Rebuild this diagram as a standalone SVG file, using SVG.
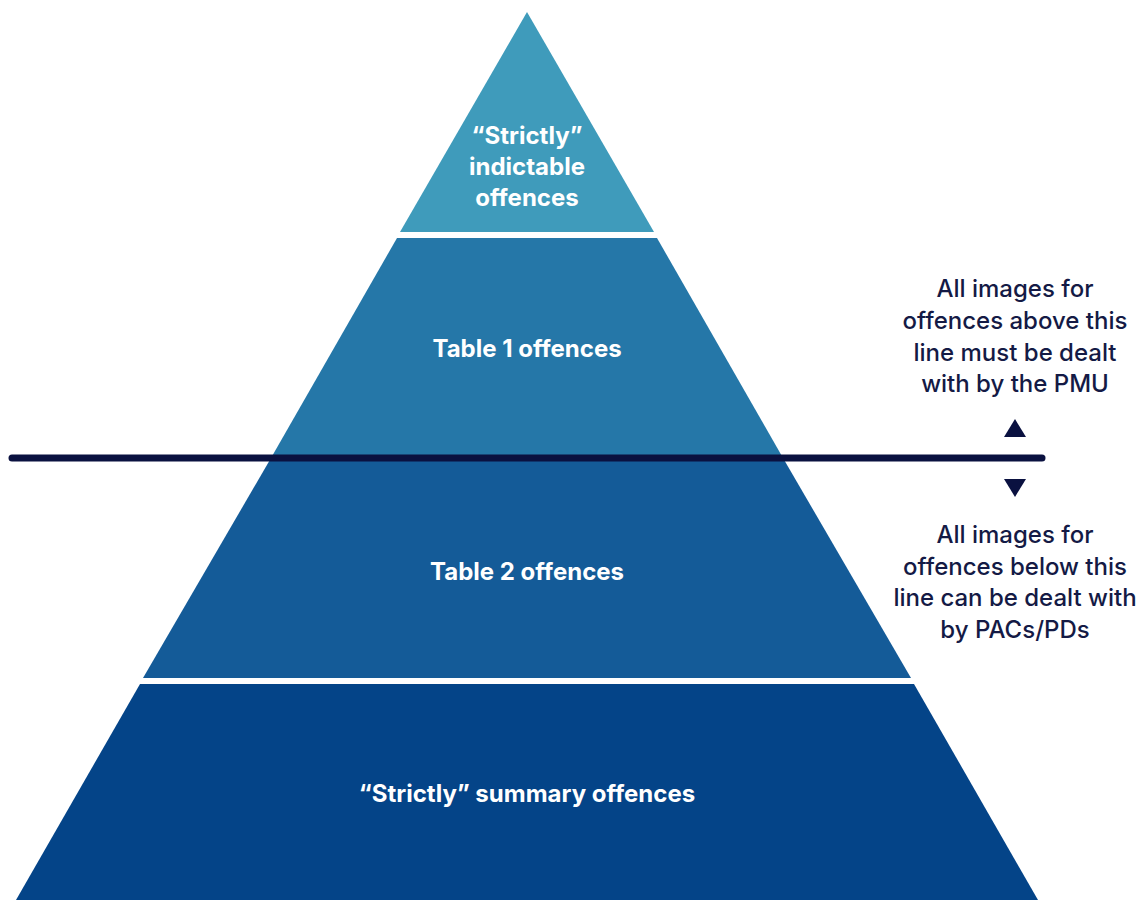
<svg xmlns="http://www.w3.org/2000/svg" width="1145" height="900" viewBox="0 0 1145 900">
<style>
.lbl{font-family:Inter,"Liberation Sans",sans-serif;font-weight:700;font-size:24px;fill:#ffffff;text-anchor:middle}
.note{font-family:Inter,"Liberation Sans",sans-serif;font-weight:500;font-size:24px;fill:#141a45;text-anchor:middle}
</style>
<rect width="1145" height="900" fill="#ffffff"/>
<g id="tier-top">
<polygon points="527,12 654,232 400,232" fill="#3f9bbb"/>
<text class="lbl" x="527" y="144">“Strictly”</text>
<text class="lbl" x="527" y="175">indictable</text>
<text class="lbl" x="527" y="206">offences</text>
</g>
<g id="tier-table1">
<polygon points="397,238 657,238 783,458 271,458" fill="#2577a8"/>
<text class="lbl" x="527" y="357">Table 1 offences</text>
</g>
<g id="tier-table2">
<polygon points="271,458 783,458 911,678 143,678" fill="#145b98"/>
<text class="lbl" x="527" y="580">Table 2 offences</text>
</g>
<g id="tier-summary">
<polygon points="140,684 914,684 1038,900 16,900" fill="#044488"/>
<text class="lbl" x="527" y="802">“Strictly” summary offences</text>
</g>
<g id="connectors">
<line x1="12" y1="458" x2="1042" y2="458" stroke="#0a1140" stroke-width="7" stroke-linecap="round"/>
<polygon points="1015,419 1026,437 1004,437" fill="#0a1140"/>
<polygon points="1004,479 1026,479 1015,497" fill="#0a1140"/>
</g>
<g id="note-above">
<text class="note" x="1015" y="297">All images for</text>
<text class="note" x="1015" y="329">offences above this</text>
<text class="note" x="1015" y="361">line must be dealt</text>
<text class="note" x="1015" y="392">with by the PMU</text>
</g>
<g id="note-below">
<text class="note" x="1015" y="543">All images for</text>
<text class="note" x="1015" y="575">offences below this</text>
<text class="note" x="1015" y="606">line can be dealt with</text>
<text class="note" x="1015" y="638">by PACs/PDs</text>
</g>
</svg>
